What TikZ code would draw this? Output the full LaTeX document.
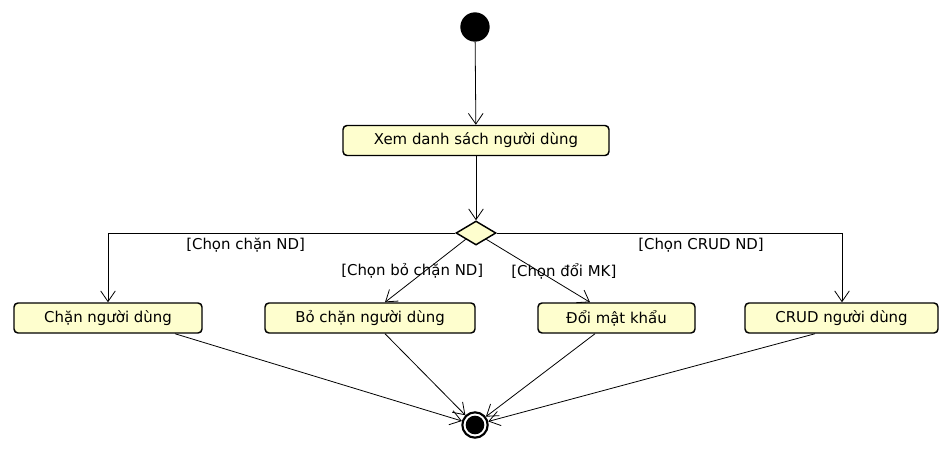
\documentclass[tikz,border=0pt]{standalone}
\usepackage{fontspec}
\setmainfont{DejaVu Sans}
\usetikzlibrary{shapes.geometric,arrows.meta}
\definecolor{actfill}{HTML}{FEFECE}
\tikzset{
  x=0.75pt,y=-0.75pt,
  act/.style={draw,line width=1.1pt,fill=actfill,rounded corners=3pt,minimum height=22.5pt,inner sep=0pt,font=\fontsize{11.2}{13}\selectfont},
  flow/.style={line width=0.6pt,-{Straight Barb[length=8pt,width=11pt,line width=0.6pt]}},
  guard/.style={font=\fontsize{11.2}{13}\selectfont,inner sep=0pt,anchor=west},
}
\begin{document}
\begin{tikzpicture}
\useasboundingbox (0,0) rectangle (952,452);
\node[circle,fill=black,minimum size=22pt,inner sep=0pt] (start) at (475,27) {};
\node[act,minimum width=199.5pt] (xem) at (476,140.5) {Xem danh sách người dùng};
\node[diamond,draw,line width=1.1pt,fill=actfill,minimum width=30pt,minimum height=18pt,inner sep=0pt] (dec) at (476,233) {};
\node[act,minimum width=141pt] (chan) at (108,318) {Chặn người dùng};
\node[act,minimum width=157.5pt] (bochan) at (370,318) {Bỏ chặn người dùng};
\node[act,minimum width=117.75pt] (doimk) at (616.5,318) {Đổi mật khẩu};
\node[act,minimum width=144.75pt] (crud) at (841.5,318) {CRUD người dùng};
\node[circle,draw,line width=1.6pt,fill=white,minimum size=19pt,inner sep=0pt] (end) at (475,425) {};
\node[circle,fill=black,minimum size=14pt,inner sep=0pt] (endin) at (end) {};
\coordinate (lc) at (108,233);
\coordinate (rc) at (842,233);
\draw[flow] (start) -- (xem);
\draw[flow] (xem) -- (dec);
\draw[flow] (dec.west) -- (lc) -- (chan.north);
\draw[flow] (dec.east) -- (rc) -- (crud.north -| rc);
\draw[flow] (dec.south west) -- (bochan.north -| 385,0);
\draw[flow] (dec.south east) -- (doimk.north -| 590,0);
\draw[flow] (chan.south -| 175,0) -- (end);
\draw[flow] (bochan.south -| 385,0) -- (end);
\draw[flow] (doimk.south -| 595,0) -- (end);
\draw[flow] (crud.south -| 815,0) -- (end);
\node[guard] (g1) at (186,245) {[Chọn chặn ND]};
\node[guard] (g2) at (341,271) {[Chọn bỏ chặn ND]};
\node[guard] (g3) at (511,271) {[Chọn đổi MK]};
\node[guard] (g4) at (638,245) {[Chọn CRUD ND]};
\end{tikzpicture}
\end{document}
